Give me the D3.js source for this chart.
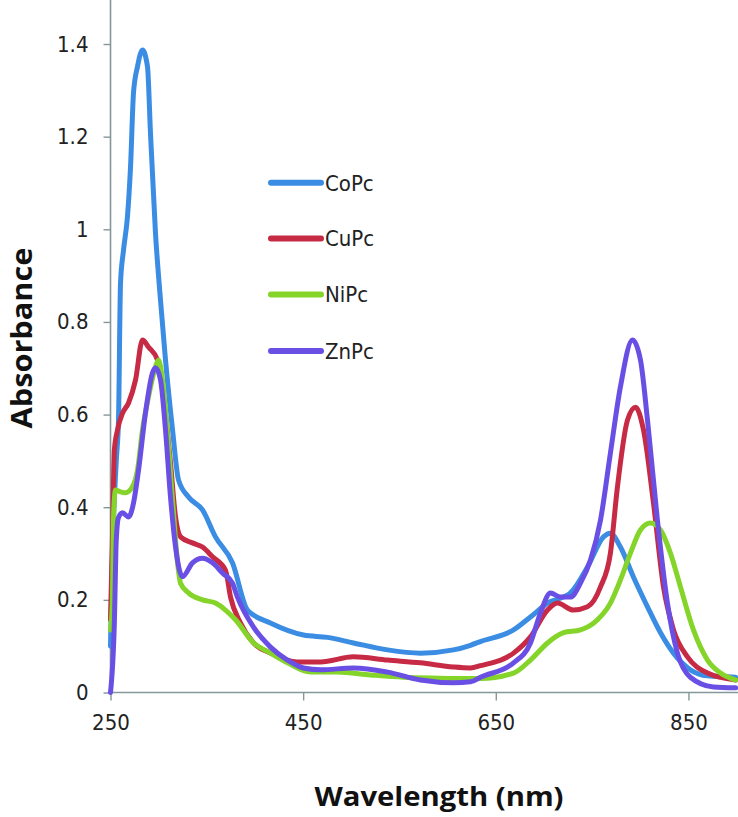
<!DOCTYPE html>
<html><head><meta charset="utf-8">
<script src="https://cdn.jsdelivr.net/npm/d3@7/dist/d3.min.js"></script>
<style>
html,body{margin:0;padding:0;background:#fff;}
svg{display:block;}
.tick text{font-family:"DejaVu Sans Condensed","DejaVu Sans",sans-serif;font-stretch:condensed;fill:#222;}
</style></head>
<body>
<script>
// ---- data ----
const xTicks = [250, 450, 650, 850];
const yTicks = [0, 0.2, 0.4, 0.6, 0.8, 1, 1.2, 1.4];
const yTickLabels = ["0", "0.2", "0.4", "0.6", "0.8", "1", "1.2", "1.4"];
const seriesNames = ["CoPc", "CuPc", "NiPc", "ZnPc"];

const coPcNm  = [250,252,256,258.3,260.4,263.5,267.6,270.8,273.9,278,283.2,288.4,291.5,296.7,301.9,307.1,314.4,320.6,331,345.5,359,376.6,392.2,416,450.4,475.3,502.3,537.6,571.8,606,623.7,634.1,668.4,686,703.7,727.5,745.2,761.8,769,779.4,793,807.5,821,834.5,852,869.8,899];
const coPcAbs = [0.10,0.30,0.50,0.588,0.884,0.955,1.027,1.135,1.295,1.351,1.387,1.351,1.208,0.992,0.847,0.718,0.567,0.459,0.422,0.394,0.336,0.280,0.178,0.150,0.124,0.119,0.107,0.092,0.085,0.092,0.102,0.110,0.135,0.163,0.193,0.215,0.271,0.336,0.344,0.314,0.249,0.185,0.129,0.085,0.049,0.036,0.033];

const cuPcNm  = [250,252,254,257.3,262.5,268.7,276,283.2,289.4,298.8,305,312.3,317.5,322.7,335.1,345.5,355.9,369.4,374.6,385,398.5,416.1,444.1,468,502.3,537.6,571.8,606,623.7,634.1,668.4,686,703.7,714,730.6,745.2,758.7,769,776.3,786.7,795,803.3,813.7,824.1,834.5,849,869.8,899];
const cuPcAbs = [0.157,0.33,0.523,0.567,0.603,0.625,0.675,0.761,0.746,0.718,0.638,0.495,0.379,0.336,0.323,0.314,0.293,0.264,0.206,0.150,0.107,0.085,0.066,0.066,0.077,0.070,0.064,0.055,0.053,0.058,0.085,0.120,0.178,0.193,0.178,0.185,0.228,0.301,0.444,0.588,0.616,0.567,0.409,0.228,0.135,0.077,0.042,0.027];

const niPcNm  = [250,252,253,255.2,260.4,265.6,272.8,278,283.2,289.4,296.7,299.8,304,310.2,315.4,319.6,322.7,331,345.5,359,369.4,379.8,398.5,416,433.7,457.6,485.6,519.9,554.2,589.5,623.7,634.1,668.4,686,703.7,720.3,737.9,755.6,769,779.4,789.8,800.2,810.6,821,831.3,841.7,855.2,869.8,883.3,899];
const niPcAbs = [0.135,0.20,0.372,0.437,0.433,0.431,0.444,0.480,0.567,0.638,0.703,0.718,0.675,0.530,0.388,0.280,0.236,0.215,0.200,0.193,0.178,0.157,0.107,0.085,0.064,0.044,0.044,0.038,0.033,0.031,0.030,0.030,0.042,0.070,0.107,0.129,0.135,0.157,0.193,0.243,0.301,0.351,0.366,0.351,0.301,0.228,0.135,0.070,0.042,0.027];

const znPcNm  = [250,254,256,258.3,262.5,268.7,273.9,279.1,286.3,293.6,296.7,301.9,307.1,312.3,317.5,324.7,335.1,345.5,355.9,366.3,376.6,381.8,398.5,416.1,433.7,450.4,468,502.3,537.6,571.8,606,623.7,634.1,668.4,686,696.4,706.8,717.1,727.5,737.9,748.3,758.7,769,779.4,791.9,800.2,807.5,817.8,828.2,838.6,852,876,899];
const znPcAbs = [0.0,0.15,0.33,0.378,0.388,0.379,0.409,0.480,0.603,0.690,0.701,0.675,0.567,0.422,0.315,0.250,0.280,0.290,0.280,0.258,0.236,0.206,0.141,0.098,0.070,0.053,0.049,0.053,0.044,0.027,0.021,0.023,0.033,0.064,0.107,0.172,0.215,0.206,0.206,0.236,0.286,0.372,0.517,0.660,0.761,0.718,0.588,0.372,0.193,0.085,0.033,0.012,0.010];

const seriesNm  = [coPcNm, cuPcNm, niPcNm, znPcNm];
const seriesAbs = [coPcAbs, cuPcAbs, niPcAbs, znPcAbs];
const colors = ["#3b8de3", "#c72a44", "#84d42a", "#6a4fe4"];

// ---- layout ----
const W = 738, H = 817;
const x = d3.scaleLinear().domain([250, 900]).range([110.5, 736.6]);
const y = d3.scaleLinear().domain([0, 1.5]).range([692.5, -2.3]);

const svg = d3.select("body").append("svg").attr("width", W).attr("height", H);

// axes
const axisColor = "#84979a";
const gx = svg.append("g").attr("transform", `translate(0,${y(0)})`)
  .call(d3.axisBottom(x).tickValues(xTicks).tickSize(8).tickSizeOuter(0).tickPadding(14).tickFormat(d3.format("d")));
const gy = svg.append("g").attr("transform", `translate(${x(250)},0)`)
  .call(d3.axisLeft(y).tickValues(yTicks).tickSize(7).tickSizeOuter(0).tickPadding(15).tickFormat((d,i)=>yTickLabels[i]));
[gx, gy].forEach(g => {
  g.selectAll(".domain").attr("stroke", axisColor).attr("stroke-width", 1.6);
  g.selectAll(".tick line").attr("stroke", axisColor).attr("stroke-width", 1.4);
  g.selectAll(".tick text").attr("font-size", 22);
});
gx.select(".domain").attr("d", `M${x(250)},0H${W}`);
gy.select(".domain").attr("d", `M0,${y(0)}V0`);

// lines
const line = d3.line().curve(d3.curveMonotoneX);
const plot = svg.append("g");
seriesNames.forEach((name, i) => {
  const pts = seriesNm[i].map((nm, j) => [x(nm), y(seriesAbs[i][j])]);
  plot.append("path").attr("d", line(pts)).attr("fill", "none")
    .attr("stroke", colors[i]).attr("stroke-width", 5)
    .attr("stroke-linejoin", "round").attr("stroke-linecap", "round");
});

// legend
const legY = [182.7, 238.5, 294.5, 351];
const leg = svg.append("g");
seriesNames.forEach((name, i) => {
  leg.append("line").attr("x1", 271).attr("x2", 321).attr("y1", legY[i]).attr("y2", legY[i])
    .attr("stroke", colors[i]).attr("stroke-width", 6).attr("stroke-linecap", "round");
  leg.append("text").attr("x", 325).attr("y", legY[i]).attr("dy", "0.36em")
    .attr("font-family", '"DejaVu Sans Condensed","DejaVu Sans",sans-serif').attr("font-stretch", "condensed")
    .attr("font-size", 22).attr("fill", "#222").text(name);
});

// titles
svg.append("text").attr("x", 439).attr("y", 796).attr("dy", "0.36em").attr("text-anchor", "middle")
  .attr("font-family", '"Open Sans",sans-serif').attr("font-weight", "bold").attr("font-size", 27)
  .attr("textLength", 249).attr("lengthAdjust", "spacingAndGlyphs")
  .attr("fill", "#111").text("Wavelength (nm)");
svg.append("text").attr("transform", "translate(22,338) rotate(-90)").attr("dy", "0.36em").attr("text-anchor", "middle")
  .attr("font-family", '"Open Sans",sans-serif').attr("font-weight", "bold").attr("font-size", 28)
  .attr("textLength", 181).attr("lengthAdjust", "spacingAndGlyphs")
  .attr("fill", "#111").text("Absorbance");
</script>
</body></html>
